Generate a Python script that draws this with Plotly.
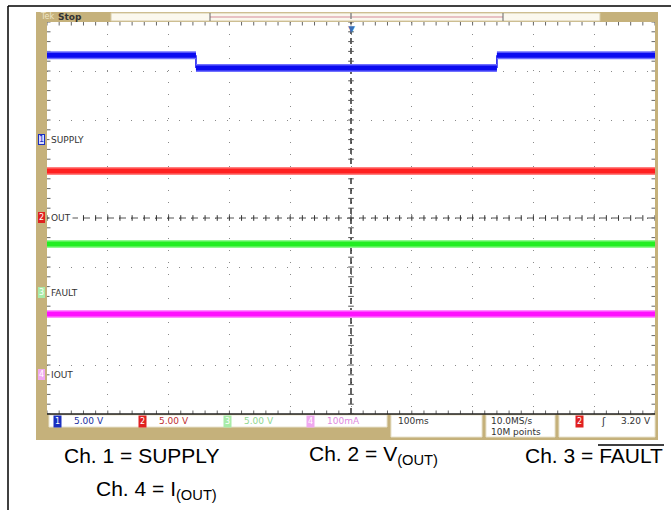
import plotly.graph_objects as go

W, H = 671, 510

# ---------------- data ----------------
time_ms = [-500, -255, -255, 240, 240, 500]
supply_v = [8.6, 8.6, 7.3, 7.3, 8.6, 8.6]
vout_t = [-500, 500]
vout_v = [4.8, 4.8]
fault_t = [-500, 500]
fault_v = [5.0, 5.0]
iout_t = [-500, 500]
iout_ma = [124, 124]

ch_names = ["SUPPLY", "OUT", "FAULT", "IOUT"]
ch_numbers = ["1", "2", "3", "4"]
ch_scale = [5.0, 5.0, 5.0, 100.0]      # units per division
ch_offset = [1.6, 0.0, -1.53, -3.2]    # ground marker, divisions
status_labels = ["5.00 V", "5.00 V", "5.00 V", "100mA"]
timebase = "100ms"
sample_rate = "10.0MS/s"
record_len = "10M points"
trigger_level = "3.20 V"
captions = ["Ch. 1 = SUPPLY", "Ch. 2 = V<sub>(OUT)</sub>", "Ch. 3 = FAULT", "Ch. 4 = I<sub>(OUT)</sub>"]

ch_core = ["#0b0bf0", "#ff2020", "#22ee22", "#ff10ff"]
ch_halo = ["#7070ff", "#ff8080", "#90f890", "#ff90ff"]
badge_bg = ["#1a2fc0", "#e02020", "#a8eca8", "#f0a8f0"]
status_col = ["#1a2fa0", "#c03030", "#8fd88f", "#e08ae0"]

# -------------- helpers ---------------
def px(x):
    return x / W

def py(y):
    return 1 - y / H

X0, X1, Y0, Y1 = 47, 655, 22, 414
TAN = "#C5B17B"
SCOPE_FONT = "DejaVu Sans"

fig = go.Figure()

def to_div(vals, i):
    return [v / ch_scale[i] + ch_offset[i] for v in vals]

series = [(time_ms, supply_v), (vout_t, vout_v), (fault_t, fault_v), (iout_t, iout_ma)]

# grid centre cross with ticks
minor_x = [-500 + 20 * k for k in range(51)]
minor_y = [-4 + 0.2 * k for k in range(41)]
fig.add_trace(go.Scatter(x=[0, 0], y=[-4, 4], mode="lines",
                         line=dict(color="#111", width=1.3, dash="6px,4px"), hoverinfo="skip"))
fig.add_trace(go.Scatter(x=[0] * len(minor_y), y=minor_y, mode="markers",
                         marker=dict(symbol="line-ew", size=4, line=dict(color="#555", width=1)), hoverinfo="skip"))
fig.add_trace(go.Scatter(x=[-500, 500], y=[0, 0], mode="lines",
                         line=dict(color="#555", width=1, dash="7px,5px"), hoverinfo="skip"))
fig.add_trace(go.Scatter(x=minor_x, y=[0] * len(minor_x), mode="markers",
                         marker=dict(symbol="line-ns", size=4, line=dict(color="#333", width=1)), hoverinfo="skip"))
# edge ticks
fig.add_trace(go.Scatter(x=minor_x * 2, y=[4] * len(minor_x) + [-4] * len(minor_x), mode="markers",
                         marker=dict(symbol="line-ns", size=5, line=dict(color="#666", width=1)), hoverinfo="skip"))
fig.add_trace(go.Scatter(x=[-500] * len(minor_y) + [500] * len(minor_y), y=minor_y * 2, mode="markers",
                         marker=dict(symbol="line-ew", size=5, line=dict(color="#666", width=1)), hoverinfo="skip"))

# waveforms
for i, (t, v) in enumerate(series):
    yd = to_div(v, i)
    hx, hy, vx, vy = [], [], [], []
    for k in range(len(t) - 1):
        if yd[k] == yd[k + 1]:
            hx += [t[k], t[k + 1], None]
            hy += [yd[k], yd[k + 1], None]
        else:
            vx += [t[k], t[k + 1], None]
            vy += [yd[k], yd[k + 1], None]
    if vx:
        fig.add_trace(go.Scatter(x=vx, y=vy, mode="lines", line=dict(color=ch_core[i], width=1.5),
                                 hoverinfo="skip"))
    fig.add_trace(go.Scatter(x=hx, y=hy, mode="lines", line=dict(color=ch_halo[i], width=8),
                             hoverinfo="skip"))
    fig.add_trace(go.Scatter(x=hx, y=hy, mode="lines", line=dict(color=ch_core[i], width=5),
                             hoverinfo="skip"))

shapes = []
# outer border (left & top)
shapes.append(dict(type="line", xref="paper", yref="paper", x0=px(8), x1=px(8), y0=py(6), y1=py(510),
                   line=dict(color="black", width=1.5)))
shapes.append(dict(type="line", xref="paper", yref="paper", x0=px(8), x1=px(671), y0=py(6), y1=py(6),
                   line=dict(color="black", width=1.5)))
# scope frame
shapes.append(dict(type="rect", xref="paper", yref="paper", x0=px(36), x1=px(658), y0=py(440), y1=py(12),
                   fillcolor=TAN, line=dict(width=0), layer="below"))
shapes.append(dict(type="rect", xref="paper", yref="paper", x0=px(X0), x1=px(X1), y0=py(Y1), y1=py(Y0),
                   fillcolor="white", line=dict(width=0), layer="below"))
# top record bar
shapes.append(dict(type="rect", xref="paper", yref="paper", x0=px(111), x1=px(600), y0=py(21), y1=py(13),
                   fillcolor="#fbf8ee", line=dict(color="#d6cba8", width=1), layer="below"))
shapes.append(dict(type="line", xref="paper", yref="paper", x0=px(210), x1=px(503), y0=py(17), y1=py(17),
                   line=dict(color="#d48a98", width=1)))
for xx in (210, 503):
    shapes.append(dict(type="line", xref="paper", yref="paper", x0=px(xx), x1=px(xx), y0=py(21), y1=py(13),
                       line=dict(color="#666", width=1)))
shapes.append(dict(type="line", xref="paper", yref="paper", x0=px(351), x1=px(351), y0=py(19), y1=py(13),
                   line=dict(color="#888", width=1.5)))
# bottom line of graticule
shapes.append(dict(type="line", xref="paper", yref="paper", x0=px(X0), x1=px(X1), y0=py(Y1), y1=py(Y1),
                   line=dict(color="#222", width=1.5)))
# status boxes
for (a, b, bot) in [(49, 387, 427), (391, 482, 437), (486, 555, 437), (559, 655, 437)]:
    shapes.append(dict(type="rect", xref="paper", yref="paper", x0=px(a), x1=px(b), y0=py(bot), y1=py(415),
                       fillcolor="white", line=dict(color="#e8e2cc", width=1), layer="below"))
# FAULT overline
shapes.append(dict(type="line", xref="paper", yref="paper", x0=px(598), x1=px(664), y0=py(445), y1=py(445),
                   line=dict(color="black", width=1.5)))

ann = []
# top bar text
ann.append(dict(text="Tek", x=px(38), y=py(17), xref="paper", yref="paper", xanchor="left", yanchor="middle",
                showarrow=False, font=dict(family=SCOPE_FONT, size=8, color="#efe6c8")))
ann.append(dict(text="<b>Stop</b>", x=px(56), y=py(17), xref="paper", yref="paper", xanchor="left",
                yanchor="middle", showarrow=False, font=dict(family=SCOPE_FONT, size=9, color="#333")))
# trigger position marker
ann.append(dict(text="▼", x=0, y=4, xref="x", yref="y", xanchor="center", yanchor="top", showarrow=False,
                font=dict(family=SCOPE_FONT, size=9, color="#3d6fb5")))
# channel ground markers and labels
for i in range(4):
    ann.append(dict(text=ch_numbers[i], x=px(41), y=ch_offset[i], xref="paper", yref="y", xanchor="center",
                    yanchor="middle", showarrow=False, bgcolor=badge_bg[i] if i else "#d8dcff",
                    bordercolor="#1a2fc0" if i == 0 else badge_bg[i], borderwidth=1, borderpad=0,
                    font=dict(family=SCOPE_FONT, size=8, color="#1a2fc0" if i == 0 else "white")))
    ann.append(dict(text=ch_names[i], x=px(49), y=ch_offset[i], xref="paper", yref="y", xanchor="left",
                    yanchor="middle", showarrow=False, bgcolor="white",
                    font=dict(family=SCOPE_FONT, size=9, color="#333")))
# status bar
badge_x = [57, 142, 227, 310]
for i in range(4):
    ann.append(dict(text=ch_numbers[i], x=px(badge_x[i]), y=py(421), xref="paper", yref="paper",
                    xanchor="center", yanchor="middle", showarrow=False, bgcolor=badge_bg[i],
                    borderpad=1, font=dict(family=SCOPE_FONT, size=8, color="white")))
    ann.append(dict(text=status_labels[i], x=px(badge_x[i] + 15), y=py(421), xref="paper", yref="paper",
                    xanchor="left", yanchor="middle", showarrow=False,
                    font=dict(family=SCOPE_FONT, size=9, color=status_col[i])))
ann.append(dict(text=timebase, x=px(396), y=py(421), xref="paper", yref="paper", xanchor="left",
                yanchor="middle", showarrow=False, font=dict(family=SCOPE_FONT, size=9, color="#333")))
ann.append(dict(text=sample_rate, x=px(489), y=py(421), xref="paper", yref="paper", xanchor="left",
                yanchor="middle", showarrow=False, font=dict(family=SCOPE_FONT, size=9, color="#333")))
ann.append(dict(text=record_len, x=px(489), y=py(432), xref="paper", yref="paper", xanchor="left",
                yanchor="middle", showarrow=False, font=dict(family=SCOPE_FONT, size=9, color="#333")))
ann.append(dict(text="2", x=px(579), y=py(421), xref="paper", yref="paper", xanchor="center",
                yanchor="middle", showarrow=False, bgcolor=badge_bg[1], borderpad=1,
                font=dict(family=SCOPE_FONT, size=8, color="white")))
ann.append(dict(text="ʃ", x=px(603), y=py(421), xref="paper", yref="paper", xanchor="center",
                yanchor="middle", showarrow=False, font=dict(family=SCOPE_FONT, size=10, color="#333")))
ann.append(dict(text=trigger_level, x=px(653), y=py(421), xref="paper", yref="paper", xanchor="right",
                yanchor="middle", showarrow=False, font=dict(family=SCOPE_FONT, size=9, color="#333")))
# captions
cap_font = dict(family="Liberation Sans", size=21, color="black")
ann.append(dict(text=captions[0], x=px(62), y=py(455), xref="paper", yref="paper", xanchor="left",
                yanchor="middle", showarrow=False, font=cap_font))
ann.append(dict(text=captions[1], x=px(307), y=py(455), xref="paper", yref="paper", xanchor="left",
                yanchor="middle", showarrow=False, font=cap_font))
ann.append(dict(text=captions[2], x=px(665), y=py(455), xref="paper", yref="paper", xanchor="right",
                yanchor="middle", showarrow=False, font=cap_font))
ann.append(dict(text=captions[3], x=px(94), y=py(490), xref="paper", yref="paper", xanchor="left",
                yanchor="middle", showarrow=False, font=cap_font))

fig.update_layout(
    width=W, height=H, margin=dict(l=0, r=0, t=0, b=0),
    paper_bgcolor="white", plot_bgcolor="white", showlegend=False,
    shapes=shapes, annotations=ann,
    xaxis=dict(domain=[px(X0), px(X1)], range=[-500, 500], dtick=100, tick0=0, showgrid=True,
               gridcolor="#8a8a8a", gridwidth=1, griddash="1px,11px", zeroline=False,
               showticklabels=False, ticks="", fixedrange=True),
    yaxis=dict(domain=[py(Y1), py(Y0)], range=[-4, 4], dtick=1, tick0=0, showgrid=True,
               gridcolor="#8a8a8a", gridwidth=1, griddash="1px,11px", zeroline=False,
               showticklabels=False, ticks="", fixedrange=True),
)

fig.write_html("out.html", config={"displayModeBar": False},
               post_script="document.body.style.margin='0';document.body.style.overflow='hidden';")
